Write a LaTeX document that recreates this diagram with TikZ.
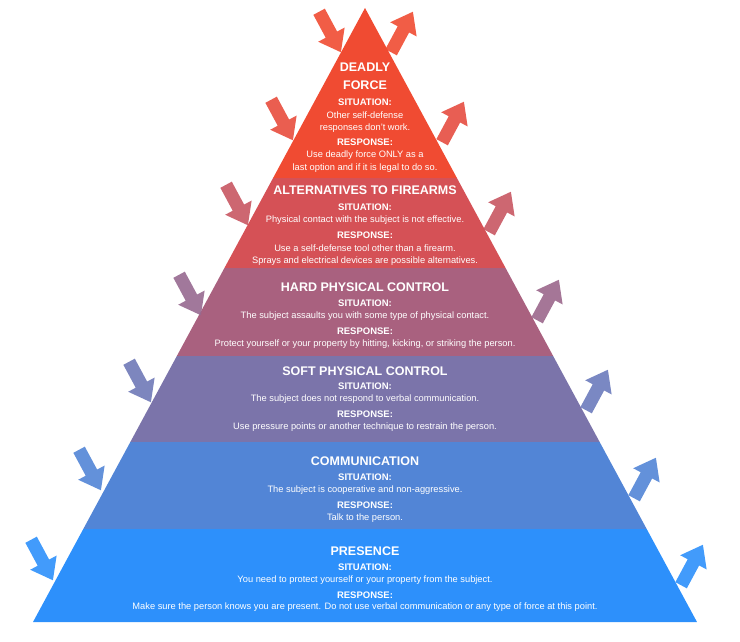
\documentclass[tikz,border=0pt]{standalone}
\usepackage{fontspec}
\setmainfont{Liberation Sans}
\begin{document}
\begin{tikzpicture}[x=1pt,y=-1pt,
  ttl/.style={text=white,font=\fontsize{12.5}{13}\selectfont\bfseries,inner sep=0},
  lbl/.style={text=white,font=\fontsize{9.5}{10}\selectfont\bfseries,inner sep=0},
  txt/.style={text=white,font=\fontsize{9.3}{10}\selectfont,inner sep=0},
  arr/.pic={\fill[pic actions] (-23,-6.5) -- (3,-6.5) -- (3,-15) -- (23,0) -- (3,15) -- (3,6.5) -- (-23,6.5) -- cycle;}]
\useasboundingbox (0,0) rectangle (740,642);
\definecolor{c1}{HTML}{F04B32}\definecolor{c2}{HTML}{D55156}\definecolor{c3}{HTML}{A9617F}
\definecolor{c4}{HTML}{7B74AA}\definecolor{c5}{HTML}{5285D6}\definecolor{c6}{HTML}{2D90FB}
% bands: edge x = 365 -+ 0.5407*(y-8)
\def\lx#1{365-0.5407*(#1-8)}
\def\rx#1{365+0.5407*(#1-8)}
\fill[c1] (365,8) -- ({\lx{178}},178) -- ({\rx{178}},178) -- cycle;
\fill[c2] ({\lx{178}},178) -- ({\lx{268}},268) -- ({\rx{268}},268) -- ({\rx{178}},178) -- cycle;
\fill[c3] ({\lx{268}},268) -- ({\lx{356}},356) -- ({\rx{356}},356) -- ({\rx{268}},268) -- cycle;
\fill[c4] ({\lx{356}},356) -- ({\lx{442}},442) -- ({\rx{442}},442) -- ({\rx{356}},356) -- cycle;
\fill[c5] ({\lx{442}},442) -- ({\lx{529}},529) -- ({\rx{529}},529) -- ({\rx{442}},442) -- cycle;
\fill[c6] ({\lx{529}},529) -- ({\lx{622}},622) -- ({\rx{622}},622) -- ({\rx{529}},529) -- cycle;
% arrows
\foreach \x/\y/\c in {330/32/c1,282/120/c1!70!c2,237/205/c2!70!c3,190/295/c3!60!c4,140/382/c4!70!c5,90/470/c5,42/560/c6}
  \pic[fill=\c,opacity=.9,rotate=-61.7] at (\x,\y) {arr};
\foreach \x/\y/\c in {402/32/c1,453/122/c1!60!c2,500/212/c2!70!c3,548/300/c3!70!c4,597/390/c4!60!c5,645/478/c5,692/565/c6}
  \pic[fill=\c,opacity=.9,rotate=61.7] at (\x,\y) {arr};
% texts
\node[ttl] (t1a) at (365,67) {DEADLY};
\node[ttl] (t1b) at (365,85) {FORCE};
\node[lbl] (s1) at (365,102) {SITUATION:};
\node[txt] (s1a) at (365,115) {Other self-defense};
\node[txt] (s1b) at (365,128) {responses don't work.};
\node[lbl] (r1) at (365,142) {RESPONSE:};
\node[txt] (r1a) at (365,155) {Use deadly force ONLY as a};
\node[txt] (r1b) at (365,168) {last option and if it is legal to do so.};
\node[ttl] (t2) at (365,190) {ALTERNATIVES TO FIREARMS};
\node[lbl] (s2) at (365,207) {SITUATION:};
\node[txt] (s2a) at (365,220) {Physical contact with the subject is not effective.};
\node[lbl] (r2) at (365,235) {RESPONSE:};
\node[txt] (r2a) at (365,248) {Use a self-defense tool other than a firearm.};
\node[txt] (r2b) at (365,261) {Sprays and electrical devices are possible alternatives.};
\node[ttl] (t3) at (365,287) {HARD PHYSICAL CONTROL};
\node[lbl] (s3) at (365,303) {SITUATION:};
\node[txt] (s3a) at (365,316) {The subject assaults you with some type of physical contact.};
\node[lbl] (r3) at (365,331) {RESPONSE:};
\node[txt] (r3a) at (365,344) {Protect yourself or your property by hitting, kicking, or striking the person.};
\node[ttl] (t4) at (365,371) {SOFT PHYSICAL CONTROL};
\node[lbl] (s4) at (365,386) {SITUATION:};
\node[txt] (s4a) at (365,399) {The subject does not respond to verbal communication.};
\node[lbl] (r4) at (365,414) {RESPONSE:};
\node[txt] (r4a) at (365,427) {Use pressure points or another technique to restrain the person.};
\node[ttl] (t5) at (365,461) {COMMUNICATION};
\node[lbl] (s5) at (365,477) {SITUATION:};
\node[txt] (s5a) at (365,490) {The subject is cooperative and non-aggressive.};
\node[lbl] (r5) at (365,505) {RESPONSE:};
\node[txt] (r5a) at (365,518) {Talk to the person.};
\node[ttl] (t6) at (365,551) {PRESENCE};
\node[lbl] (s6) at (365,567) {SITUATION:};
\node[txt] (s6a) at (365,580) {You need to protect yourself or your property from the subject.};
\node[lbl] (r6) at (365,595) {RESPONSE:};
\node[txt] (r6a) at (365,607) {Make sure the person knows you are present. Do not use verbal communication or any type of force at this point.};
\end{tikzpicture}
\end{document}
